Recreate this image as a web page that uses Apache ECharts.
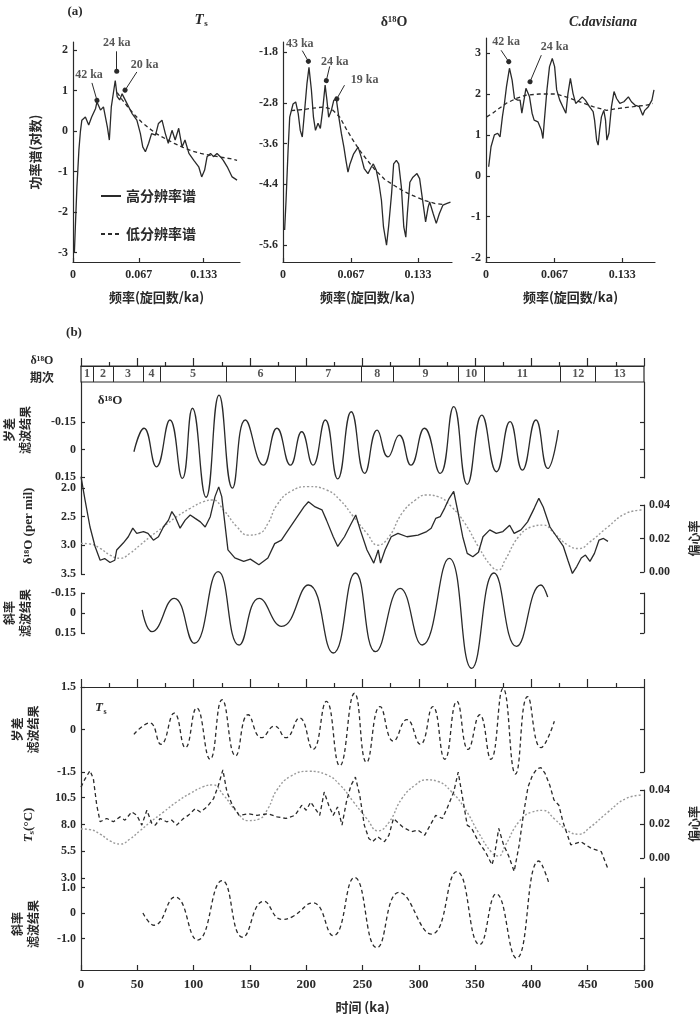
<!DOCTYPE html>
<html><head><meta charset="utf-8">
<script src="https://cdn.jsdelivr.net/npm/echarts@6/dist/echarts.min.js"></script>
<style>html,body{margin:0;padding:0;background:#fff}#c{width:700px;height:1014px}</style>
</head><body><div id="c"></div>
<script>
// ---------------- DATA ----------------
// (a) power spectra: [frequency (cycles/ka), log power]
const freqTicks = [0, 0.067, 0.133];
const tsHigh = [[0.0014,-3.0],[0.0024,-2.36],[0.004,-1.37],[0.006,-0.47],[0.0075,-0.02],[0.009,0.27],[0.0126,0.35],[0.016,0.15],[0.019,0.35],[0.023,0.56],[0.0244,0.72],[0.028,0.52],[0.031,0.6],[0.035,0.1],[0.037,-0.22],[0.039,0.6],[0.043,1.25],[0.045,0.85],[0.0475,0.77],[0.05,0.92],[0.055,0.68],[0.06,0.44],[0.065,0.27],[0.0686,-0.06],[0.071,-0.39],[0.0737,-0.51],[0.077,-0.3],[0.08,-0.06],[0.084,-0.1],[0.087,0.19],[0.0906,0.27],[0.094,-0.06],[0.097,-0.3],[0.1008,0.02],[0.104,-0.22],[0.1076,0.07],[0.111,-0.39],[0.114,-0.22],[0.118,-0.55],[0.123,-0.72],[0.128,-0.88],[0.131,-1.13],[0.134,-0.96],[0.1365,-0.63],[0.14,-0.55],[0.143,-0.63],[0.1466,-0.55],[0.15,-0.63],[0.153,-0.72],[0.157,-0.88],[0.162,-1.13],[0.167,-1.21]];
const tsLow = [[0.045,0.95],[0.05,0.78],[0.055,0.62],[0.062,0.42],[0.07,0.22],[0.078,0.06],[0.086,-0.08],[0.095,-0.2],[0.103,-0.3],[0.112,-0.4],[0.12,-0.48],[0.13,-0.55],[0.14,-0.6],[0.15,-0.64],[0.16,-0.68],[0.167,-0.72]];
const d18High = [[0.0016,-5.3],[0.003,-4.72],[0.005,-3.73],[0.0066,-3.08],[0.0099,-2.82],[0.0125,-2.78],[0.015,-3.01],[0.017,-3.34],[0.019,-3.47],[0.0213,-2.95],[0.0236,-2.42],[0.0256,-2.1],[0.028,-2.55],[0.03,-3.08],[0.032,-3.34],[0.0345,-3.2],[0.0368,-3.3],[0.039,-2.95],[0.0415,-2.45],[0.0433,-2.75],[0.045,-3.08],[0.0476,-2.95],[0.05,-2.75],[0.0525,-2.72],[0.055,-3.08],[0.0575,-3.4],[0.06,-3.67],[0.062,-3.93],[0.064,-4.16],[0.066,-4.0],[0.0696,-3.8],[0.074,-3.67],[0.077,-3.86],[0.08,-4.09],[0.0837,-4.19],[0.087,-4.06],[0.089,-4.0],[0.092,-4.13],[0.0946,-4.39],[0.097,-4.72],[0.099,-5.24],[0.102,-5.6],[0.104,-5.24],[0.107,-4.58],[0.109,-4.0],[0.1117,-3.93],[0.114,-4.0],[0.1166,-4.45],[0.119,-5.24],[0.121,-5.44],[0.1225,-4.98],[0.125,-4.36],[0.128,-4.26],[0.132,-4.19],[0.1346,-4.29],[0.138,-4.78],[0.1405,-5.14],[0.143,-4.85],[0.1445,-4.75],[0.148,-4.98],[0.151,-5.17],[0.154,-4.98],[0.1576,-4.81],[0.161,-4.78],[0.165,-4.75]];
const d18Low = [[0.008,-2.95],[0.02,-2.93],[0.03,-2.9],[0.04,-2.88],[0.048,-2.92],[0.056,-3.08],[0.062,-3.3],[0.068,-3.5],[0.075,-3.72],[0.082,-3.9],[0.09,-4.1],[0.1,-4.3],[0.11,-4.43],[0.12,-4.55],[0.13,-4.64],[0.14,-4.72],[0.15,-4.78],[0.158,-4.8]];
const cdHigh = [[0.0026,0.22],[0.0049,0.71],[0.0082,1.0],[0.0114,1.04],[0.0137,0.95],[0.016,1.44],[0.018,1.77],[0.02,2.18],[0.0229,2.63],[0.0255,2.34],[0.0278,1.89],[0.031,1.85],[0.0333,1.85],[0.035,1.53],[0.039,2.14],[0.0425,1.93],[0.045,1.53],[0.047,1.36],[0.0507,1.32],[0.054,1.12],[0.0556,0.91],[0.057,1.36],[0.0595,2.1],[0.062,2.67],[0.0647,2.87],[0.067,2.67],[0.069,2.1],[0.072,1.85],[0.075,1.69],[0.078,1.53],[0.08,2.01],[0.0824,2.38],[0.085,2.01],[0.0876,1.77],[0.091,1.85],[0.094,1.93],[0.097,1.85],[0.101,1.69],[0.1046,1.57],[0.106,1.36],[0.108,0.87],[0.1095,0.75],[0.111,1.12],[0.1127,1.44],[0.115,1.6],[0.1167,1.36],[0.118,0.87],[0.12,1.04],[0.1225,1.69],[0.125,2.06],[0.1275,1.89],[0.1307,1.77],[0.1346,1.81],[0.139,1.93],[0.142,1.81],[0.1454,1.73],[0.1497,1.69],[0.153,1.48],[0.155,1.6],[0.1585,1.69],[0.162,1.85],[0.164,2.1]];
const cdLow = [[0.0007,1.44],[0.0065,1.53],[0.013,1.65],[0.0196,1.77],[0.0294,1.89],[0.039,1.97],[0.052,2.0],[0.0686,2.0],[0.078,1.93],[0.0915,1.81],[0.1046,1.69],[0.1176,1.6],[0.13,1.65],[0.1438,1.69],[0.157,1.73],[0.163,1.77]];
// annotations (data coordinates): label position, arrow start, arrow end
const annTs = [{t:'42 ka',at:[0.0163,1.40],from:[0.0193,1.19],to:[0.0244,0.76]},{t:'24 ka',at:[0.0445,2.17],from:[0.0445,1.97],to:[0.0445,1.48]},{t:'20 ka',at:[0.073,1.63],from:[0.065,1.46],to:[0.053,1.01]}];
const annD18 = [{t:'43 ka',at:[0.0165,-1.63],from:[0.019,-1.77],to:[0.025,-1.98]},{t:'24 ka',at:[0.051,-2.0],from:[0.046,-2.08],to:[0.0427,-2.36]},{t:'19 ka',at:[0.0805,-2.34],from:[0.0606,-2.45],to:[0.053,-2.72]}];
const annCd = [{t:'42 ka',at:[0.0196,3.28],from:[0.0147,3.07],to:[0.0222,2.79]},{t:'24 ka',at:[0.067,3.15],from:[0.054,2.95],to:[0.043,2.30]}];

// (b) time series: [age (ka), value]
const stageBounds = [0,10.7,28.5,55,70,129,190,249,277,335,358,426,457,500];
const stageNames = ['1','2','3','4','5','6','7','8','9','10','11','12','13'];
const precD18 = [[47,0.012],[56,-0.116],[67,0.094],[79,-0.161],[90,0.157],[99,-0.225],[111,0.26],[122.6,-0.297],[134.5,0.21],[146,-0.161],[162,0.085],[174,-0.116],[186,0.085],[196,-0.097],[206,0.085],[217,-0.161],[228,0.16],[240,-0.206],[252,0.13],[263,-0.106],[272.6,0.04],[282.6,-0.079],[293,0.085],[305,-0.116],[319,0.13],[331,-0.234],[343,0.19],[356,-0.188],[369,0.121],[381,-0.152],[392,0.112],[404,-0.161],[414.5,0.103],[424,-0.106]];
const d18O = [[0,1.8],[3.6,2.21],[8,2.68],[12.5,3.02],[17,3.26],[21,3.23],[25.8,3.30],[30,3.26],[31.7,3.08],[37.5,2.96],[42,2.85],[46,2.70],[49.5,2.79],[55.5,2.76],[59.5,2.79],[64.3,2.91],[68.8,2.85],[73.2,2.68],[77.7,2.56],[80.7,2.41],[83.6,2.50],[88,2.70],[92.5,2.56],[97,2.47],[101.4,2.53],[106,2.59],[110.3,2.68],[114.8,2.50],[119,2.15],[122.3,1.98],[125,2.15],[130.5,3.08],[136.6,3.22],[144.5,3.28],[150.4,3.24],[158,3.34],[166,3.22],[172,2.97],[178,2.91],[182,2.79],[190,2.56],[198,2.33],[202,2.24],[208,2.33],[214,2.38],[218,2.56],[224,2.85],[228,3.02],[234,2.85],[240,2.62],[244,2.47],[248,2.73],[254,3.08],[260,3.31],[264,3.08],[266,3.31],[270,3.08],[275.5,2.85],[281.5,2.79],[289.5,2.85],[299.3,2.82],[307,2.76],[311,2.70],[315,2.53],[319,2.50],[323,2.35],[327,2.18],[331,2.06],[335,2.44],[339,2.85],[343,3.14],[348,3.20],[353,3.12],[357,2.85],[363,2.73],[368.8,2.79],[374.7,2.76],[380.7,2.65],[384.7,2.79],[390.7,2.73],[396.6,2.59],[402.6,2.35],[406.6,2.18],[410.5,2.33],[416.5,2.68],[422.5,2.85],[428.4,3.02],[432.4,3.26],[436.4,3.49],[440.3,3.37],[444.3,3.22],[448,3.17],[452,3.28],[456,3.14],[460,2.91],[464,2.88],[468,2.93]];
const eccentricity = [[0,0.0171],[8,0.0167],[17,0.0141],[25.8,0.0101],[34.7,0.0082],[43.6,0.0112],[52.5,0.0161],[61.4,0.021],[73.2,0.027],[85,0.033],[97,0.038],[108.8,0.042],[117,0.043],[126.6,0.037],[138.5,0.027],[148.5,0.022],[158.4,0.023],[166,0.029],[174,0.040],[186,0.048],[202,0.051],[218,0.049],[230,0.043],[242,0.033],[254,0.023],[263.6,0.016],[273.5,0.021],[285,0.035],[297,0.043],[307,0.046],[317,0.045],[329,0.039],[341,0.029],[353,0.015],[364.8,0.0032],[370.7,0.0012],[376.7,0.0072],[388.6,0.021],[400.5,0.027],[410.5,0.028],[420.4,0.023],[432.4,0.016],[442.3,0.014],[452,0.018],[468,0.027],[484,0.035],[497.8,0.037]];
const oblD18 = [[54.3,-0.023],[63,0.14],[82.8,-0.11],[100.7,0.227],[121.8,-0.31],[140.4,0.24],[158.3,-0.11],[178.2,0.10],[202,-0.21],[224,0.30],[243.7,-0.30],[261.6,0.29],[283.4,-0.185],[303,0.24],[327,-0.41],[347,0.415],[366.8,-0.30],[386.7,0.25],[408.5,-0.21],[414.5,-0.12]];
const precTs = [[47,-0.17],[61,0.23],[71,-0.52],[82.8,0.58],[92.7,-0.64],[102.7,0.76],[114.6,-1.05],[125.3,1.05],[137.3,-0.93],[148.4,0.52],[160.3,-0.29],[172,0.12],[182,-0.29],[194,0.41],[206,-0.70],[217.9,0.99],[229.8,-1.28],[242.9,1.28],[253.6,-1.16],[265.6,0.81],[277.5,-0.41],[289.4,0.35],[301.3,-0.52],[312.4,0.81],[323.1,-1.05],[333.8,0.99],[343.8,-0.70],[354.1,0.52],[364,-1.05],[374.8,1.45],[385.9,-1.57],[396.6,1.16],[408.5,-0.64],[420.4,0.29]];
const tsRecord = [[0,11.49],[3.6,12.26],[8,13.03],[11,12.26],[14,9.79],[17,8.25],[22.9,8.56],[28.8,8.25],[34.7,8.71],[39,8.40],[45,9.17],[49.5,8.87],[54,7.94],[58.5,9.33],[62.9,8.09],[66,7.94],[70.3,8.56],[76,8.25],[80.7,8.40],[85,7.94],[91,8.56],[95.5,8.87],[101.4,9.48],[106,9.17],[111.8,9.63],[117.7,10.41],[122,11.64],[126,13.1],[129.6,11.03],[134.5,9.79],[140.4,8.85],[148.4,9.0],[156.3,8.85],[166.3,9.0],[174.2,8.71],[182,8.56],[190,8.85],[196,9.79],[200,9.33],[204,10.1],[208,9.48],[212,8.85],[216,11.03],[220,9.79],[224,8.85],[227.8,9.63],[231.8,7.94],[235.7,10.1],[239.7,11.64],[243.7,12.42],[247.6,10.71],[251.6,7.94],[255.6,6.70],[259,6.39],[263.5,6.85],[269.5,6.39],[273.5,7.0],[277.5,8.56],[285.5,7.78],[293.4,7.32],[299.3,7.48],[305.3,7.0],[309.3,7.78],[315,8.85],[321,8.56],[325,9.48],[331,11.03],[335,12.88],[339,10.41],[343,7.94],[347,7.63],[353,6.39],[359,5.47],[365,4.23],[367,5.0],[371,7.63],[375,6.2],[380,5.0],[384.7,3.62],[389,6.0],[393,9.0],[397,11.5],[401,12.6],[405,13.2],[408.5,13.3],[412,12.8],[416.4,11.64],[420,10.3],[424.4,9.79],[428,8.25],[435,6.09],[444,6.39],[453,5.78],[462,5.47],[467.7,3.93]];
const oblTs = [[55,0],[65,-0.48],[83.6,0.63],[103.5,-1.06],[125.3,1.27],[143.6,-0.95],[162.3,0.46],[178.2,-0.25],[188,-0.14],[206,0.40],[224,-0.89],[242.9,1.39],[262.8,-1.36],[282.6,0.81],[311.2,-0.83],[333.8,1.62],[354,-1.24],[368.8,0.75],[386.7,-1.77],[406.6,2.04],[415.6,1.16]];

// ---------------- STYLE / BUILD ----------------
const FONT = '"Liberation Serif","Times New Roman","Noto Sans CJK SC",serif';
const CJK = '"Noto Sans CJK SC","Liberation Serif",sans-serif';
const INK = '#2a2a2a';
const lineS = {color: INK, width: 1.2};
const grids = [], xAxes = [], yAxes = [], series = [];
function addGrid(l, t, w, h, extra) { grids.push(Object.assign({left: l, top: t, width: w, height: h, containLabel: false, outerBoundsMode: 'none'}, extra || {})); return grids.length - 1; }
function addX(o) { xAxes.push(o); return xAxes.length - 1; }
function addY(o) { yAxes.push(o); return yAxes.length - 1; }
function lab(vals, fmt, extra) { return Object.assign({show: true, customValues: vals, formatter: fmt, color: INK, fontFamily: FONT, fontSize: 12, fontWeight: 'bold', margin: 5}, extra || {}); }
function yDef(g, min, max, vals, fmt, o) {
  o = o || {};
  return {type: 'value', gridIndex: g, min: min, max: max, inverse: !!o.inverse, position: o.position || 'left',
    axisLine: {show: true, onZero: false, lineStyle: lineS},
    axisTick: {show: true, inside: true, length: 4, customValues: vals, lineStyle: lineS},
    axisLabel: o.noLabel ? {show: false} : lab(vals, fmt),
    splitLine: {show: false},
    name: o.name || '', nameLocation: 'middle', nameGap: o.nameGap || 40, nameRotate: 90,
    nameTextStyle: Object.assign({color: INK, fontFamily: CJK, fontSize: 12, fontWeight: 'bold', lineHeight: 16}, o.nameStyle || {})};
}
function xHidden(g) { return {type: 'value', gridIndex: g, min: 0, max: 500, show: false}; }
function xFreq(g, max) {
  return {type: 'value', gridIndex: g, min: 0, max: max,
    axisLine: {show: true, onZero: false, lineStyle: lineS},
    axisTick: {show: true, inside: true, length: 4, customValues: freqTicks, lineStyle: lineS},
    axisLabel: lab(freqTicks, v => v === 0 ? '0' : v.toFixed(3), {margin: 7}),
    splitLine: {show: false},
    name: '频率(旋回数/ka)', nameLocation: 'middle', nameGap: 29,
    nameTextStyle: {color: INK, fontFamily: CJK, fontSize: 13, fontWeight: 'bold'}};
}
function line(xi, yi, data, kind, extra) {
  const ls = {color: INK, width: 1.3, type: 'solid'};
  if (kind === 'dash') ls.type = [4, 3];
  if (kind === 'dot') { ls.type = [2, 2]; ls.color = '#9a9a9a'; ls.width = 1.4; }
  return Object.assign({type: 'line', xAxisIndex: xi, yAxisIndex: yi, data: data, symbol: 'none', clip: false, silent: true,
    itemStyle: {color: INK}, lineStyle: ls, smooth: false}, extra || {});
}
function annSeries(xi, yi, arr) {
  series.push({type: 'scatter', xAxisIndex: xi, yAxisIndex: yi, silent: true, symbolSize: 0,
    data: arr.map(a => [a.at[0], a.at[1], a.t]),
    label: {show: true, position: 'inside', formatter: p => p.data[2], color: INK, fontFamily: FONT, fontSize: 12, fontWeight: 'bold'},
    markLine: {silent: true, symbol: ['none', 'circle'], symbolSize: 5, label: {show: false},
      lineStyle: {color: INK, width: 1, type: 'solid'},
      data: arr.map(a => [{coord: a.from}, {coord: a.to}])}});
}

// ---- panel (a)
const gA1 = addGrid(73, 42, 167, 220);
const xA1 = addX(xFreq(gA1, 0.170));
const yA1 = addY(yDef(gA1, -3.23, 2.2, [-3, -2, -1, 0, 1, 2], v => String(v), {name: '功率谱(对数)', nameGap: 30, nameStyle: {fontSize: 13}}));
series.push(line(xA1, yA1, tsHigh, 'solid', {name: '高分辨率谱'}));
series.push(line(xA1, yA1, tsLow, 'dash', {name: '低分辨率谱'}));
annSeries(xA1, yA1, annTs);

const gA2 = addGrid(283, 42, 169, 220);
const xA2 = addX(xFreq(gA2, 0.1665));
const yA2 = addY(yDef(gA2, -5.93, -1.60, [-5.6, -4.4, -3.6, -2.8, -1.8], v => v.toFixed(1)));
series.push(line(xA2, yA2, d18High, 'solid', {name: '高分辨率谱'}));
series.push(line(xA2, yA2, d18Low, 'dash', {name: '低分辨率谱'}));
annSeries(xA2, yA2, annD18);

const gA3 = addGrid(486, 38, 169, 224);
const xA3 = addX(xFreq(gA3, 0.165));
const yA3 = addY(yDef(gA3, -2.11, 3.37, [-2, -1, 0, 1, 2, 3], v => String(v)));
series.push(line(xA3, yA3, cdHigh, 'solid', {name: '高分辨率谱'}));
series.push(line(xA3, yA3, cdLow, 'dash', {name: '低分辨率谱'}));
annSeries(xA3, yA3, annCd);

// ---- panel (b)
const XL = 81, XW = 563;
function topTickAxis(g) {
  return {type: 'value', gridIndex: g, min: 0, max: 500, interval: 50, position: 'top',
    axisLine: {show: true, onZero: false, lineStyle: lineS},
    axisTick: {show: true, inside: false, length: 8, lineStyle: lineS},
    minorTick: {show: true, splitNumber: 2, length: 4, lineStyle: lineS},
    axisLabel: {show: false}, splitLine: {show: false}, minorSplitLine: {show: false}};
}
// stage bar
const gBar = addGrid(XL, 366, XW, 16, {show: true, borderColor: INK, borderWidth: 1.2, backgroundColor: 'transparent'});
const xBar = addX(topTickAxis(gBar));
const yBar = addY({type: 'value', gridIndex: gBar, min: 0, max: 1, show: false});
series.push({type: 'scatter', xAxisIndex: xBar, yAxisIndex: yBar, silent: true, symbolSize: 0,
  data: stageNames.map((n, i) => [(stageBounds[i] + stageBounds[i + 1]) / 2, 0.5, n]),
  label: {show: true, position: 'inside', formatter: p => p.data[2], color: INK, fontFamily: FONT, fontSize: 12, fontWeight: 'bold'},
  markLine: {silent: true, symbol: 'none', label: {show: false}, lineStyle: {color: INK, width: 1, type: 'solid'},
    data: stageBounds.slice(1, -1).map(b => ({xAxis: b}))}});

const fmt2 = v => v === 0 ? '0' : v.toFixed(2);
const fmt1 = v => v === 0 ? '0' : v.toFixed(1);

// upper precession filter
const gUP = addGrid(XL, 382, XW, 96);
const xUP = addX(xHidden(gUP));
const yUP = addY(yDef(gUP, -0.368, 0.155, [-0.15, 0, 0.15], fmt2, {inverse: true, name: '岁差\n滤波结果', nameGap: 48}));
addY(yDef(gUP, -0.368, 0.155, [-0.15, 0, 0.15], fmt2, {inverse: true, position: 'right', noLabel: true}));
series.push(line(xUP, yUP, precD18, 'solid', {smooth: 0.5}));

// upper d18O record
const gUD = addGrid(XL, 478, XW, 96);
const xUD = addX(xHidden(gUD));
const yUD = addY(yDef(gUD, 1.825, 3.5, [2, 2.5, 3, 3.5], v => v.toFixed(1), {inverse: true, name: 'δ¹⁸O (per mil)', nameGap: 44, nameStyle: {fontFamily: FONT, fontSize: 13}}));
series.push(line(xUD, yUD, d18O, 'solid'));

// upper eccentricity
const gUE = addGrid(XL, 505, XW, 67);
const xUE = addX(xHidden(gUE));
const yUE = addY(yDef(gUE, 0, 0.04, [0, 0.02, 0.04], v => v.toFixed(2), {position: 'right', name: '偏心率', nameGap: 42}));
series.push(line(xUE, yUE, eccentricity, 'dot', {smooth: 0.5, z: 1}));

// upper obliquity filter
const gUO = addGrid(XL, 593, XW, 40);
const xUO = addX(xHidden(gUO));
const yUO = addY(yDef(gUO, -0.15, 0.15, [-0.15, 0, 0.15], fmt2, {inverse: true, name: '斜率\n滤波结果', nameGap: 48}));
addY(yDef(gUO, -0.15, 0.15, [-0.15, 0, 0.15], fmt2, {inverse: true, position: 'right', noLabel: true}));
series.push(line(xUO, yUO, oblD18, 'solid', {smooth: 0.5}));

// lower precession filter (Ts)
const gLP = addGrid(XL, 687, XW, 85);
const xLP = addX(topTickAxis(gLP));
const yLP = addY(yDef(gLP, -1.5, 1.5, [-1.5, 0, 1.5], fmt1, {name: '岁差\n滤波结果', nameGap: 40}));
addY(yDef(gLP, -1.5, 1.5, [-1.5, 0, 1.5], fmt1, {position: 'right', noLabel: true}));
series.push(line(xLP, yLP, precTs, 'dash', {smooth: 0.5}));

// lower Ts record
const gLT = addGrid(XL, 772, XW, 106);
const xLT = addX(xHidden(gLT));
const yLT = addY(yDef(gLT, 3, 12.9, [3, 5.5, 8, 10.5], v => v.toFixed(1), {name: '{i|T}{s|s}(°C)', nameGap: 44,
  nameStyle: {fontFamily: FONT, fontSize: 13, rich: {i: {fontStyle: 'italic', fontFamily: FONT, fontSize: 13, fontWeight: 'bold', color: INK}, s: {fontSize: 9, fontFamily: FONT, fontWeight: 'bold', color: INK, padding: [6, 0, 0, 0]}}}}));
series.push(line(xLT, yLT, tsRecord, 'dash'));

// lower eccentricity
const gLE = addGrid(XL, 790, XW, 68);
const xLE = addX(xHidden(gLE));
const yLE = addY(yDef(gLE, 0, 0.04, [0, 0.02, 0.04], v => v.toFixed(2), {position: 'right', name: '偏心率', nameGap: 42}));
series.push(line(xLE, yLE, eccentricity, 'dot', {smooth: 0.5, z: 1}));

// lower obliquity filter
const gLO = addGrid(XL, 878, XW, 92);
const xLO = addX({type: 'value', gridIndex: gLO, min: 0, max: 500, interval: 50,
  axisLine: {show: true, onZero: false, lineStyle: lineS},
  axisTick: {show: true, inside: true, length: 5, lineStyle: lineS},
  axisLabel: {show: true, color: INK, fontFamily: FONT, fontSize: 13, fontWeight: 'bold', margin: 8},
  splitLine: {show: false},
  name: '时间 (ka)', nameLocation: 'middle', nameGap: 31,
  nameTextStyle: {color: INK, fontFamily: CJK, fontSize: 13, fontWeight: 'bold'}});
const yLO = addY(yDef(gLO, -2.235, 1.373, [-1, 0, 1], fmt1, {name: '斜率\n滤波结果', nameGap: 40}));
addY(yDef(gLO, -2.235, 1.373, [-1, 0, 1], fmt1, {position: 'right', noLabel: true}));
series.push(line(xLO, yLO, oblTs, 'dash', {smooth: 0.5}));

// ---------------- TEXTS ----------------
function txt(x, y, text, font, align) {
  return {type: 'text', x: x, y: y, silent: true, style: {text: text, font: font, fill: INK, textAlign: align || 'center', textVerticalAlign: 'middle'}};
}
const graphics = [
  txt(75, 12, '(a)', 'bold 13px ' + FONT),
  txt(74, 333, '(b)', 'bold 13px ' + FONT),
  txt(199, 20, 'T', 'italic bold 15px ' + FONT),
  txt(206, 24, 's', 'bold 9px ' + FONT),
  txt(394, 22, 'δ¹⁸O', 'bold 14px ' + FONT),
  txt(603, 22, 'C.davisiana', 'italic bold 14px ' + FONT),
  txt(42, 361, 'δ¹⁸O', 'bold 12px ' + FONT),
  txt(42, 377, '期次', 'bold 12px ' + CJK),
  txt(110, 401, 'δ¹⁸O', 'bold 13px ' + FONT),
  txt(99, 708, 'T', 'italic bold 13px ' + FONT),
  txt(105, 712, 's', 'bold 8px ' + FONT)
];

const option = {
  animation: false,
  backgroundColor: '#fff',
  color: [INK],
  textStyle: {fontFamily: FONT},
  grid: grids, xAxis: xAxes, yAxis: yAxes, series: series,
  legend: {show: true, data: ['高分辨率谱', '低分辨率谱'], orient: 'vertical', left: 95, top: 184,
    itemWidth: 20, itemHeight: 10, itemGap: 24, selectedMode: false,
    itemStyle: {opacity: 0, borderWidth: 0},
    textStyle: {fontFamily: CJK, fontSize: 14, color: INK, fontWeight: 'bold'}},
  graphic: graphics
};
const chart = echarts.init(document.getElementById('c'), null, {renderer: 'canvas', width: 700, height: 1014});
chart.setOption(option);
</script>
</body></html>
